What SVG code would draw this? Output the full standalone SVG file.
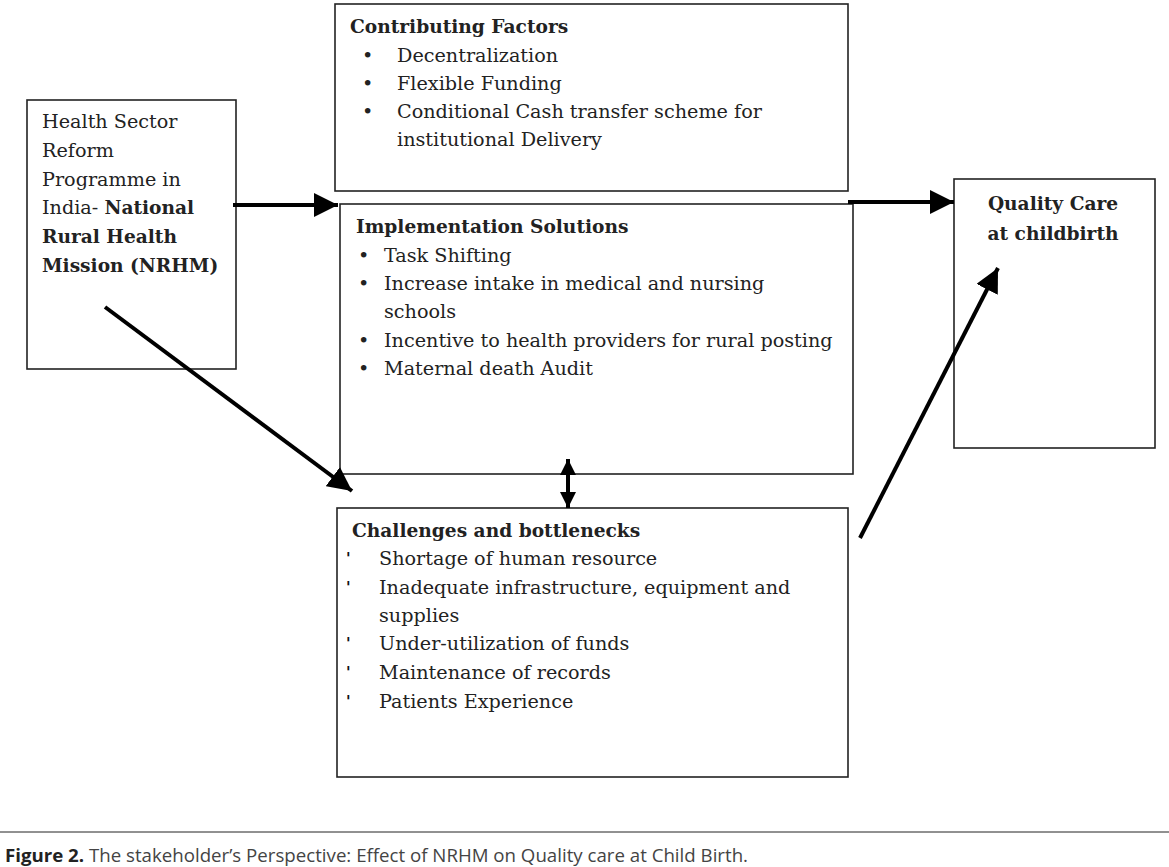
<svg xmlns="http://www.w3.org/2000/svg" width="1169" height="867" viewBox="0 0 1169 867">
<style>
.box{fill:#fff;stroke:#222;stroke-width:1.6}
.t{font-family:"DejaVu Serif","Liberation Serif",serif;font-size:19.2px;fill:#222}
.b{font-weight:bold;font-size:18.6px}
.tk{font-family:"DejaVu Sans",sans-serif;font-size:15px;font-weight:bold;fill:#111}
.con{stroke:#000;stroke-width:4;fill:none}
.cap{font-family:"Open Sans","Noto Sans",sans-serif;font-size:18.5px;fill:#444}
</style>
<defs>
<marker id="ah" viewBox="0 0 10 10" refX="10" refY="5" markerWidth="6" markerHeight="6" markerUnits="strokeWidth" orient="auto-start-reverse">
<path d="M0,0 L10,5 L0,10 z" fill="#000"/>
</marker>
<marker id="ah2" viewBox="0 0 10 10" refX="10" refY="5" markerWidth="8" markerHeight="4" markerUnits="strokeWidth" orient="auto-start-reverse">
<path d="M0,0 L10,5 L0,10 z" fill="#000"/>
</marker>
</defs>
<rect width="1169" height="867" fill="#fff"/>
<g id="health">
<rect class="box" x="27" y="100" width="209" height="269"/>
<text class="t" x="42" y="128">Health Sector</text>
<text class="t" x="42" y="157">Reform</text>
<text class="t" x="42" y="186">Programme in</text>
<text class="t" x="42" y="214">India- <tspan class="b">National</tspan></text>
<text class="t b" x="42" y="243">Rural Health</text>
<text class="t b" x="42" y="272">Mission (NRHM)</text>
</g>
<g id="contributing">
<rect class="box" x="335" y="4" width="513" height="187"/>
<text class="t b" x="350" y="33">Contributing Factors</text>
<text class="t" x="362" y="62">•</text><text class="t" x="397" y="62">Decentralization</text>
<text class="t" x="362" y="90">•</text><text class="t" x="397" y="90">Flexible Funding</text>
<text class="t" x="362" y="118">•</text><text class="t" x="397" y="118">Conditional Cash transfer scheme for</text>
<text class="t" x="397" y="146">institutional Delivery</text>
</g>
<g id="implementation">
<rect class="box" x="340" y="204" width="513" height="270"/>
<text class="t b" x="356" y="233">Implementation Solutions</text>
<text class="t" x="358" y="262">•</text><text class="t" x="384" y="262">Task Shifting</text>
<text class="t" x="358" y="290">•</text><text class="t" x="384" y="290">Increase intake in medical and nursing</text>
<text class="t" x="384" y="318">schools</text>
<text class="t" x="358" y="347">•</text><text class="t" x="384" y="347">Incentive to health providers for rural posting</text>
<text class="t" x="358" y="375">•</text><text class="t" x="384" y="375">Maternal death Audit</text>
</g>
<g id="quality">
<rect class="box" x="954" y="179" width="201" height="269"/>
<text class="t b" x="1053" y="210" text-anchor="middle" font-size="22">Quality Care</text>
<text class="t b" x="1053" y="240" text-anchor="middle" font-size="22">at childbirth</text>
</g>
<g id="challenges">
<rect class="box" x="337" y="508" width="511" height="269"/>
<text class="t b" x="352" y="537">Challenges and bottlenecks</text>
<text class="tk" x="346" y="564">'</text><text class="t" x="379" y="565">Shortage of human resource</text>
<text class="tk" x="346" y="593">'</text><text class="t" x="379" y="594">Inadequate infrastructure, equipment and</text>
<text class="t" x="379" y="622">supplies</text>
<text class="tk" x="346" y="649">'</text><text class="t" x="379" y="650">Under-utilization of funds</text>
<text class="tk" x="346" y="678">'</text><text class="t" x="379" y="679">Maintenance of records</text>
<text class="tk" x="346" y="707">'</text><text class="t" x="379" y="708">Patients Experience</text>
</g>
<g id="connectors">
<line class="con" x1="233" y1="205" x2="338" y2="205" marker-end="url(#ah)"/>
<line class="con" x1="848" y1="202" x2="954" y2="202" marker-end="url(#ah)"/>
<line class="con" x1="105" y1="307" x2="352" y2="491" marker-end="url(#ah)"/>
<line class="con" x1="860" y1="538" x2="998" y2="268" marker-end="url(#ah)"/>
<line class="con" x1="568" y1="459" x2="568" y2="508" marker-start="url(#ah2)" marker-end="url(#ah2)"/>
</g>
<g id="caption">
<line x1="0" y1="832" x2="1169" y2="832" stroke="#222" stroke-width="1"/>
<text class="cap" x="5" y="862" textLength="743" lengthAdjust="spacingAndGlyphs"><tspan font-weight="bold" fill="#222">Figure 2.</tspan> The stakeholder’s Perspective: Effect of NRHM on Quality care at Child Birth.</text>
</g>
</svg>
